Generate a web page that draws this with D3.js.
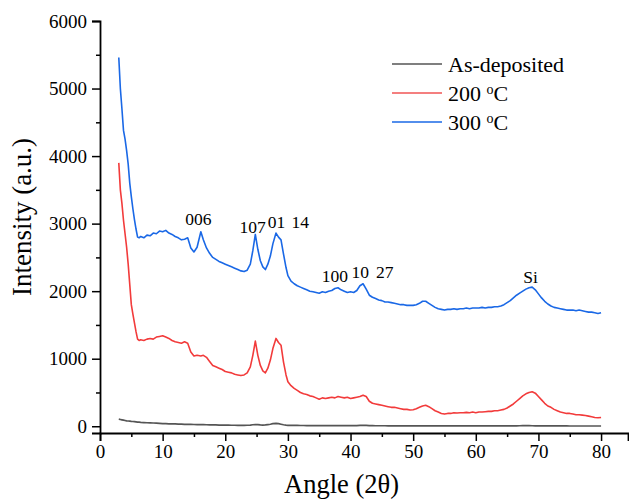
<!DOCTYPE html>
<html>
<head>
<meta charset="utf-8">
<script src="https://cdn.jsdelivr.net/npm/d3@7"></script>
<style>
  html, body { margin: 0; padding: 0; background: #fff; }
  svg { display: block; }
  text { font-family: "Liberation Serif", "Times New Roman", serif; fill: #000; }
</style>
</head>
<body>
<div id="chart"></div>
<script>
(function () {
  'use strict';

  // 2-theta grid shared by all three scans
  var ANGLES = [
    3, 3.25, 3.5, 3.75, 4, 4.25, 4.5, 4.75, 5, 5.25, 5.5, 5.75, 6, 6.25, 6.5,
    7, 7.5, 8, 8.5, 9, 9.5, 10, 10.5, 11, 11.5, 12, 12.5, 13, 13.5, 14, 14.5, 15, 15.5, 16.1,
    16.5, 17, 17.5, 18, 18.5, 19, 19.5, 20, 20.5, 21, 21.5, 22, 22.5, 23, 23.5, 24,
    24.4, 24.8, 25.2, 25.6, 26, 26.4, 26.8, 27.2, 27.6, 28.1, 28.5, 28.9, 29.3, 29.7,
    30, 30.5, 31, 31.5, 32, 32.5, 33, 33.5, 34, 34.5,
    35, 35.5, 36, 36.5, 37, 37.5, 38, 38.5, 39, 39.5,
    40, 40.5, 41, 41.5, 42, 42.5, 43, 43.5, 44, 44.5,
    45, 45.5, 46, 46.5, 47, 47.5, 48, 48.5, 49, 49.5,
    50, 50.5, 51, 51.5, 52, 52.5, 53, 53.5, 54, 54.5,
    55, 55.5, 56, 56.5, 57, 57.5, 58, 58.5, 59, 59.5,
    60, 60.5, 61, 61.5, 62, 62.5, 63, 63.5, 64, 64.5,
    65, 65.5, 66, 66.5, 67, 67.5, 68, 68.5, 69, 69.5,
    70, 70.5, 71, 71.5, 72, 72.5, 73, 73.5, 74, 74.5,
    75, 75.5, 76, 76.5, 77, 77.5, 78, 78.5, 79, 79.5,
    80
  ];

  var AS_DEPOSITED = [
    105, 100, 95, 90, 85, 80, 78, 75, 72, 70, 68, 65, 62, 60, 58,
    55, 52, 50, 48, 45, 42, 40, 38, 36, 35, 34, 32, 30, 29, 28, 27, 26, 25, 24,
    23, 22, 21, 20, 19, 18, 18, 17, 16, 15, 15, 14, 14, 13, 15, 18,
    22, 25, 24, 20, 18, 20, 25, 30, 38, 42, 38, 30, 22, 16,
    14, 13, 12, 12, 11, 11, 10, 10, 10, 9,
    9, 9, 9, 8, 8, 8, 8, 8, 8, 8,
    8, 9, 10, 12, 15, 12, 10, 8, 7, 7,
    7, 7, 6, 6, 6, 6, 6, 6, 5, 5,
    5, 5, 6, 7, 6, 5, 5, 5, 5, 5,
    5, 5, 5, 5, 5, 5, 5, 5, 5, 5,
    5, 5, 5, 5, 5, 5, 5, 5, 5, 5,
    5, 5, 6, 6, 7, 8, 8, 8, 7, 6,
    6, 5, 5, 5, 5, 5, 5, 5, 5, 5,
    4, 4, 4, 4, 4, 4, 4, 4, 4, 4,
    4
  ];

  var T200 = [
    3900, 3500, 3300, 3050, 2850, 2650, 2400, 2100, 1800, 1660, 1530, 1400, 1290, 1270, 1280,
    1270, 1290, 1300, 1290, 1320, 1330, 1340, 1320, 1300, 1270, 1250, 1240, 1230, 1250, 1230, 1100, 1040, 1050, 1040,
    1050, 1020, 960, 900, 880, 860, 840, 810, 800, 790, 770, 760, 750, 760, 790, 880,
    1050, 1260, 1050, 900, 820, 790, 860, 980, 1150, 1300, 1240, 1200, 950, 760,
    660, 600, 560, 530, 500, 480, 470, 450, 440, 420,
    400, 420, 410, 420, 430, 420, 440, 430, 420, 430,
    410, 420, 430, 440, 460, 440, 370, 340, 330, 320,
    310, 300, 290, 280, 280, 270, 260, 250, 250, 240,
    245, 260, 280, 300, 310, 290, 260, 230, 210, 190,
    180, 190, 190, 200, 195, 200, 200, 205, 200, 210,
    200, 210, 210, 215, 220, 220, 230, 230, 240, 250,
    270, 300, 330, 370, 410, 450, 480, 500, 510, 490,
    440, 390, 340, 300, 280, 250, 230, 210, 200, 190,
    190, 180, 170, 170, 165, 160, 150, 140, 130, 125,
    130
  ];

  var T300 = [
    5460, 5000, 4700, 4380, 4250, 4080, 3880, 3600, 3400, 3220, 3060, 2920, 2800, 2790, 2810,
    2790, 2830, 2820, 2860, 2850, 2890, 2880, 2900, 2860, 2840, 2810, 2790, 2760, 2770, 2790, 2640, 2580, 2650, 2880,
    2760, 2640, 2560, 2500, 2470, 2440, 2420, 2400, 2380, 2360, 2340, 2320, 2300, 2290, 2310, 2400,
    2600, 2840, 2620, 2450, 2360, 2320, 2400, 2520, 2700, 2860, 2800, 2760, 2550, 2350,
    2230, 2150, 2110, 2080, 2060, 2040, 2020, 2000, 1990, 1980,
    1970, 1990, 1980, 2000, 2010, 2040, 2050, 2020, 2000, 1980,
    1990, 1980, 2010, 2080, 2110, 2030, 1940, 1910, 1890, 1870,
    1860, 1840, 1840, 1830, 1820, 1810, 1800, 1800, 1790, 1790,
    1790, 1800, 1820, 1850, 1850, 1820, 1790, 1760, 1740, 1730,
    1720, 1730, 1730, 1740, 1730, 1740, 1740, 1750, 1740, 1750,
    1750, 1750, 1760, 1750, 1760, 1760, 1770, 1770, 1780, 1800,
    1830, 1860, 1900, 1940, 1970, 2000, 2030, 2050, 2060, 2020,
    1960, 1900, 1850, 1810, 1780, 1760, 1750, 1740, 1730, 1720,
    1720, 1720, 1710, 1720, 1710, 1700, 1690, 1690, 1680, 1670,
    1680
  ];

  var SERIES_NAMES = ['As-deposited', '200', '300'];
  var SERIES_COLORS = ['#555555', '#f23b3b', '#1a68e6'];
  var LEGEND_COLORS = ['#555555', '#f05555', '#1a68e6'];

  var X_TICKS = [0, 10, 20, 30, 40, 50, 60, 70, 80];
  var X_MINOR = [5, 15, 25, 35, 45, 55, 65, 75];
  var Y_TICKS = [0, 1000, 2000, 3000, 4000, 5000, 6000];
  var Y_MINOR = [500, 1500, 2500, 3500, 4500, 5500];

  // peak labels (hkl), anchored at [angle, intensity] of label baseline centre
  var PEAK_LABELS = ['006', '107', '01 14', '100', '10 27', 'Si'];
  var PEAK_ANGLES = [15.7, 24.35, 30.07, 37.5, 43.5, 68.75];
  var PEAK_LEVELS = [2980, 2857, 2931, 2140, 2195, 2125];

  var width = 629;
  var height = 500;
  var SERIF = '"Liberation Serif", "Times New Roman", serif';

  var x = d3.scaleLinear().domain([0, 84.3]).range([100, 628]);
  var y = d3.scaleLinear().domain([-100, 6000]).range([433, 21]);

  var svg = d3.select('#chart').append('svg')
    .attr('width', width)
    .attr('height', height);

  function drawAxes() {
    var xAxis = svg.append('g')
      .attr('transform', 'translate(0,' + y.range()[0] + ')')
      .call(d3.axisBottom(x).tickValues(X_TICKS).tickSize(8).tickPadding(4).tickFormat(d3.format('d')));
    svg.append('g')
      .attr('transform', 'translate(0,' + y.range()[0] + ')')
      .call(d3.axisBottom(x).tickValues(X_MINOR).tickSize(4).tickFormat(''))
      .select('.domain').remove();

    var yAxis = svg.append('g')
      .attr('transform', 'translate(' + x.range()[0] + ',0)')
      .call(d3.axisLeft(y).tickValues(Y_TICKS).tickSize(8).tickPadding(5).tickFormat(d3.format('d')));
    svg.append('g')
      .attr('transform', 'translate(' + x.range()[0] + ',0)')
      .call(d3.axisLeft(y).tickValues(Y_MINOR).tickSize(4).tickFormat(''))
      .select('.domain').remove();

    svg.selectAll('.domain').attr('stroke', '#000').attr('stroke-width', 1.8);
    svg.selectAll('.tick line').attr('stroke', '#000').attr('stroke-width', 1.5);
    [xAxis, yAxis].forEach(function (ax) {
      ax.attr('font-family', SERIF).attr('font-size', 19);
      ax.selectAll('.tick text')
        .style('font-family', SERIF)
        .style('font-size', '19px')
        .attr('fill', '#000');
    });

    svg.append('text')
      .attr('x', 341.5)
      .attr('y', 493)
      .attr('text-anchor', 'middle')
      .style('font-size', '26.5px')
      .text('Angle (2\u03b8)');

    svg.append('text')
      .attr('transform', 'translate(31,217) rotate(-90)')
      .attr('text-anchor', 'middle')
      .style('font-size', '27px')
      .text('Intensity (a.u.)');
  }

  function drawSeries() {
    var all = [AS_DEPOSITED, T200, T300];
    var line = d3.line()
      .x(function (d) { return x(d[0]); })
      .y(function (d) { return y(d[1]); });

    all.forEach(function (vals, i) {
      var pts = ANGLES.map(function (a, k) { return [a, vals[k]]; });
      svg.append('path')
        .datum(pts)
        .attr('fill', 'none')
        .attr('stroke', SERIES_COLORS[i])
        .attr('stroke-width', i === 0 ? 1.7 : 1.6)
        .attr('stroke-linejoin', 'round')
        .attr('d', line);
    });
  }

  function drawPeakLabels() {
    var labels = svg.append('g').selectAll('text')
      .data(PEAK_LABELS)
      .enter()
      .append('text')
      .attr('x', function (d, i) { return x(PEAK_ANGLES[i]); })
      .attr('y', function (d, i) { return y(PEAK_LEVELS[i]); })
      .attr('text-anchor', 'middle')
      .style('font-size', '17.5px');

    labels.each(function (d) {
      var parts = d.split(' ');
      var t = d3.select(this);
      parts.forEach(function (p, k) {
        t.append('tspan')
          .attr('dx', k === 0 ? null : 7)
          .text(p);
      });
    });
  }

  function drawLegend() {
    var g = svg.append('g').attr('class', 'legend');
    SERIES_NAMES.forEach(function (name, i) {
      var cy = 64 + i * 29;
      g.append('line')
        .attr('x1', 392).attr('x2', 442)
        .attr('y1', cy).attr('y2', cy)
        .attr('stroke', LEGEND_COLORS[i])
        .attr('stroke-width', 1.6);
      var t = g.append('text')
        .attr('x', 448)
        .attr('y', cy + 8)
        .style('font-size', '22px');
      if (i === 0) {
        t.text(name);
      } else {
        t.append('tspan').text(name + ' ');
        t.append('tspan').attr('dy', -7).style('font-size', '14px').text('o');
        t.append('tspan').attr('dy', 7).text('C');
      }
    });
  }

  drawAxes();
  drawSeries();
  drawPeakLabels();
  drawLegend();
})();
</script>
</body>
</html>
